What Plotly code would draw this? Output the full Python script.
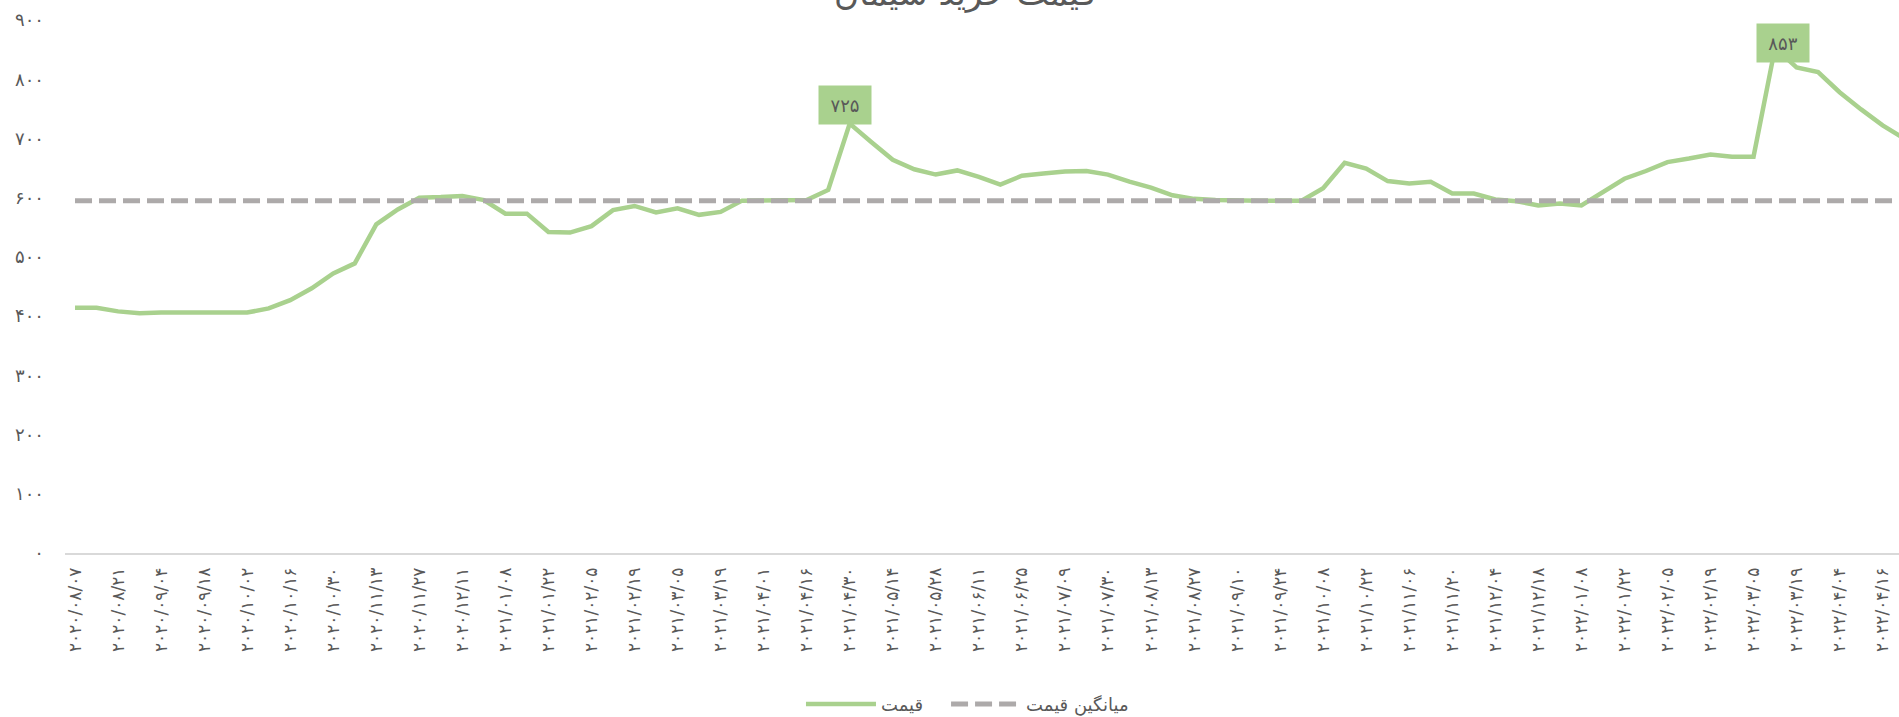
import plotly.graph_objects as go

FA = str.maketrans("0123456789", "۰۱۲۳۴۵۶۷۸۹")

# category dates (weekly); every other one is labelled on the axis
dates = [
    "2020/08/07", "2020/08/14", "2020/08/21", "2020/08/28", "2020/09/04", "2020/09/11",
    "2020/09/18", "2020/09/25", "2020/10/02", "2020/10/09", "2020/10/16", "2020/10/23",
    "2020/10/30", "2020/11/06", "2020/11/13", "2020/11/20", "2020/11/27", "2020/12/04",
    "2020/12/11", "2020/12/25", "2021/01/08", "2021/01/15", "2021/01/22", "2021/01/29",
    "2021/02/05", "2021/02/12", "2021/02/19", "2021/02/26", "2021/03/05", "2021/03/12",
    "2021/03/19", "2021/03/26", "2021/04/01", "2021/04/09", "2021/04/16", "2021/04/23",
    "2021/04/30", "2021/05/07", "2021/05/14", "2021/05/21", "2021/05/28", "2021/06/04",
    "2021/06/11", "2021/06/18", "2021/06/25", "2021/07/02", "2021/07/09", "2021/07/16",
    "2021/07/30", "2021/08/06", "2021/08/13", "2021/08/20", "2021/08/27", "2021/09/03",
    "2021/09/10", "2021/09/17", "2021/09/24", "2021/10/01", "2021/10/08", "2021/10/15",
    "2021/10/22", "2021/10/29", "2021/11/06", "2021/11/13", "2021/11/20", "2021/11/27",
    "2021/12/04", "2021/12/11", "2021/12/18", "2021/12/25", "2022/01/08", "2022/01/15",
    "2022/01/22", "2022/01/29", "2022/02/05", "2022/02/12", "2022/02/19", "2022/02/26",
    "2022/03/05", "2022/03/12", "2022/03/19", "2022/03/26", "2022/04/04", "2022/04/09",
    "2022/04/16", "2022/04/23",
]

price = [
    414, 414, 408, 405, 406, 406, 406, 406, 406, 413,
    427, 447, 472, 489, 555, 580, 600, 601, 603, 596,
    573, 573, 542, 541, 552, 579, 586, 575, 582, 571,
    576, 595, 595, 595, 596, 613, 725, 694, 664, 648,
    639, 646, 635, 622, 637, 641, 644, 645, 639, 627,
    617, 604, 598, 596, 595, 595, 595, 595, 616, 659,
    649, 628, 624, 627, 607, 607, 597, 594, 587, 590,
    587, 610, 632, 645, 660, 666, 673, 669, 669, 853,
    820, 812, 778, 749, 722, 700,
]

mean_price = 595
mean_line = [mean_price] * len(dates)

y_ticks = [0, 100, 200, 300, 400, 500, 600, 700, 800, 900]

series_names = ["قیمت", "میانگین قیمت"]
title_text = "قیمت خرید سیمان"

labels_fa = [d.translate(FA) for d in dates]
tick_labels = labels_fa[::2]

FONT = "DejaVu Sans"
GRAY = "#595959"
GREEN = "#A9D18E"

fig = go.Figure()
fig.add_trace(go.Scatter(
    x=labels_fa, y=price, mode="lines", name=series_names[0], legend="legend",
    line=dict(color=GREEN, width=4.5), hoverinfo="skip",
))
fig.add_trace(go.Scatter(
    x=labels_fa, y=mean_line, mode="lines", name=series_names[1], legend="legend2",
    line=dict(color="#ADAAAA", width=5, dash="17px,7px"), hoverinfo="skip",
))

# peak labels
peaks = [(price.index(725), -5, "bottom", -1), (price.index(853), 8, "middle", 5)]
for idx, xs, ya, ys in peaks:
    fig.add_annotation(
        x=labels_fa[idx], y=price[idx], text=str(price[idx]).translate(FA),
        showarrow=False, xanchor="center", yanchor=ya, xshift=xs, yshift=ys,
        bgcolor=GREEN, borderpad=6, width=40, height=26,
        font=dict(family=FONT, size=18, color=GRAY),
    )

fig.add_annotation(
    xref="paper", yref="paper", x=0.4907, y=1.0, xanchor="center", yanchor="bottom",
    yshift=4, text=title_text, showarrow=False,
    font=dict(family=FONT, size=34, color=GRAY),
)

legend_style = dict(
    orientation="h", xref="paper", yref="paper", y=-0.284,
    xanchor="left", yanchor="middle",
    font=dict(family=FONT, size=18, color=GRAY), itemwidth=70,
)

fig.update_layout(
    width=1899, height=717,
    margin=dict(l=65, r=0, t=19.5, b=163.5, autoexpand=False),
    paper_bgcolor="white", plot_bgcolor="white",
    font=dict(family=FONT, color=GRAY),
    showlegend=True,
    legend=dict(x=0.4013, **legend_style),
    legend2=dict(x=0.4804, **legend_style),
    xaxis=dict(
        type="category", categoryorder="array", categoryarray=labels_fa,
        range=[-0.465, 84.76], tickmode="array", tickvals=tick_labels, ticktext=tick_labels,
        tickangle=-90, showgrid=False, zeroline=False, automargin=False,
        showline=True, linecolor="#D9D9D9", linewidth=1.5, ticks="",
        tickfont=dict(family=FONT, size=17, color=GRAY), ticklabelstandoff=6,
    ),
    yaxis=dict(
        range=[0, 900], tickmode="array", tickvals=y_ticks, automargin=False,
        ticktext=[str(v).translate(FA) for v in y_ticks],
        showgrid=False, zeroline=False, showline=False, ticks="",
        tickfont=dict(family=FONT, size=18, color=GRAY), ticklabelstandoff=20,
    ),
)

fig.write_html(
    "out.html",
    config={"displayModeBar": False},
    post_script="document.body.style.margin='0';document.body.style.overflow='hidden';",
)
